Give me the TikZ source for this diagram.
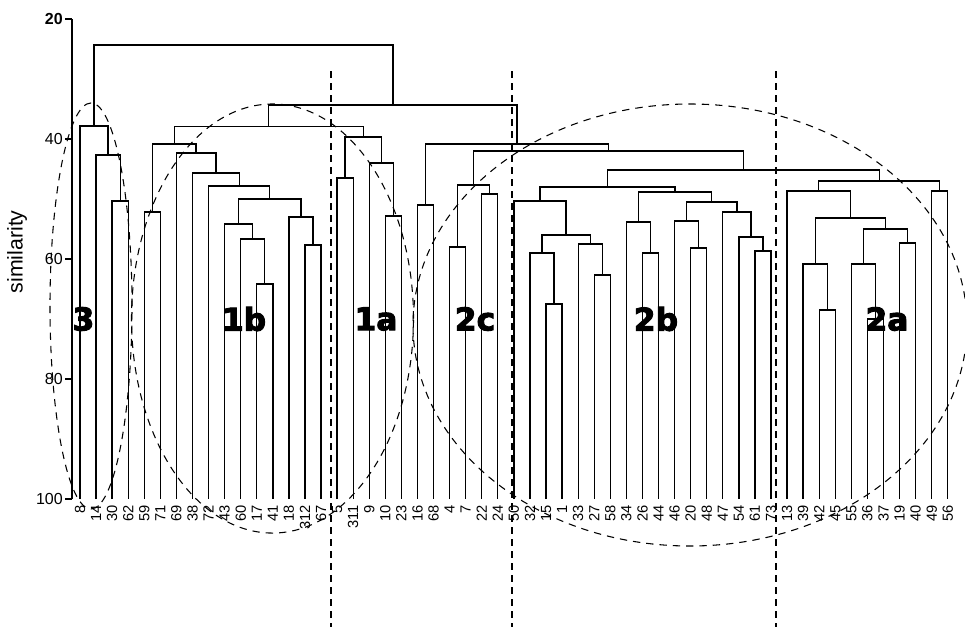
\documentclass[tikz,border=0pt]{standalone}
\usepackage{fontspec}
\setmainfont{Liberation Sans}
\newfontfamily\clusterfont{DejaVu Sans}[FakeBold=3]
\usetikzlibrary{calc, positioning}
\tikzset{
branch/.style={line width=1pt},
axis/.style={line width=0.9pt},
cut/.style={line width=0.8pt, dash pattern=on 5pt off 4pt},
region/.style={line width=0.8pt, dash pattern=on 5.5pt off 4.5pt},
leaf/.style={rotate=90, anchor=east, inner sep=0pt, font=\fontsize{11}{11}\selectfont},
ticklabel/.style={anchor=east, inner sep=0pt, font=\fontsize{12}{12}\selectfont},
cluster/.style={inner sep=0pt, font=\clusterfont\bfseries\fontsize{23.5}{23.5}\selectfont},
}
% one bracket of the dendrogram: name, left child, right child, similarity
\newcommand{\clmerge}[4]{%
  \coordinate (#1-x) at ($(#2)!0.5!(#3)$);
  \coordinate (#1) at (#1-x |- 0,#4);
  \draw[branch] (#2) |- (#1) -| (#3);
}
\begin{document}
\begin{tikzpicture}[x=0.75pt, y=-4.5pt]
\useasboundingbox (0,16.833) rectangle (965,121.333);

% axis
\draw[axis] (72,20) -- (72,100);
\foreach \s in {20,40,...,100}
  \draw[axis] (72,\s) -- (65,\s);
\node[ticklabel] (y20) at (63,20) {\bfseries 20};
\foreach \s in {40,60,80,100}
  \node[ticklabel] (y\s) at (63,\s) {\s};
\node[rotate=90, font=\fontsize{16}{16}\selectfont] (ylab) at (17,58.8) {similarity};

% leaves
\foreach \lab [count=\i from 0] in {8,14,30,62,59,71,69,38,72,43,60,17,41,18,312,67,5,311,9,10,23,16,68,4,7,22,24,50,32,15,1,33,27,58,34,26,44,46,20,48,47,54,61,73,13,39,42,45,55,36,37,19,40,49,56}{
  \coordinate (l\lab) at ({80+16.07*\i},100);
  \node[leaf] (t\lab) at ({80+16.07*\i},101) {\lab};
}

% cluster 3
\clmerge{c3a}{l30}{l62}{50.33}
\clmerge{c3b}{l14}{c3a}{42.67}
\clmerge{c3}{l8}{c3b}{37.83}

% cluster 1b
\clmerge{b1}{l59}{l71}{52.17}
\clmerge{b2}{l17}{l41}{64.17}
\clmerge{b3}{l60}{b2}{56.67}
\clmerge{b4}{l43}{b3}{54.17}
\clmerge{b5}{l312}{l67}{57.67}
\clmerge{b6}{l18}{b5}{53}
\clmerge{b7}{b4}{b6}{50}
\clmerge{b8}{l72}{b7}{47.83}
\clmerge{b9}{l38}{b8}{45.67}
\clmerge{b10}{l69}{b9}{42.33}
\clmerge{c1b}{b1}{b10}{40.83}

% cluster 1a
\clmerge{a1}{l5}{l311}{46.5}
\clmerge{a2}{l10}{l23}{52.83}
\clmerge{a3}{l9}{a2}{44}
\clmerge{c1a}{a1}{a3}{39.67}
\clmerge{c1}{c1b}{c1a}{37.92}

% cluster 2c
\clmerge{e1}{l16}{l68}{51}
\clmerge{e2}{l4}{l7}{58}
\clmerge{e3}{l22}{l24}{49.17}
\clmerge{c2c}{e2}{e3}{47.67}

% cluster 2b
\clmerge{f1}{l15}{l1}{67.5}
\clmerge{f2}{l32}{f1}{59}
\clmerge{f3}{l27}{l58}{62.67}
\clmerge{f4}{l33}{f3}{57.5}
\clmerge{f5}{f2}{f4}{56}
\clmerge{f6}{l50}{f5}{50.33}
\clmerge{f7}{l26}{l44}{59}
\clmerge{f8}{l34}{f7}{53.83}
\clmerge{f9}{l20}{l48}{58.17}
\clmerge{f10}{l46}{f9}{53.67}
\clmerge{f11}{l61}{l73}{58.67}
\clmerge{f12}{l54}{f11}{56.33}
\clmerge{f13}{l47}{f12}{52.17}
\clmerge{f14}{f10}{f13}{50.5}
\clmerge{f15}{f8}{f14}{48.83}
\clmerge{c2b}{f6}{f15}{48}

% cluster 2a
\clmerge{g1}{l42}{l45}{68.5}
\clmerge{g2}{l39}{g1}{60.83}
\clmerge{g3}{l36}{l37}{70}
\clmerge{g4}{l55}{g3}{60.83}
\clmerge{g5}{l19}{l40}{57.33}
\clmerge{g6}{g4}{g5}{55}
\clmerge{g7}{g2}{g6}{53.17}
\clmerge{g8}{l13}{g7}{48.67}
\clmerge{g9}{l49}{l56}{48.67}
\clmerge{c2a}{g8}{g9}{47}

% upper levels
\clmerge{h1}{c2b}{c2a}{45.17}
\clmerge{h2}{c2c}{h1}{42}
\clmerge{c2}{e1}{h2}{40.83}
\clmerge{c12}{c1}{c2}{34.33}
\clmerge{root}{c3}{c12}{24.33}

% cuts and groups
\foreach \x in {331,512,776}
  \draw[cut] (\x,28.67) -- (\x,121.333);
\draw[region] (91,67.83) ellipse [x radius=30.75pt, y radius=152.25pt];
\draw[region] (272.5,69.92) ellipse [x radius=105.75pt, y radius=160.9pt];
\draw[region] (690,71) ellipse [x radius=207.75pt, y radius=165.75pt];

\node[cluster] (n3) at (83.5,70) {3};
\node[cluster] (n1b) at (244,70) {1b};
\node[cluster] (n1a) at (376,70) {1a};
\node[cluster] (n2c) at (475,70) {2c};
\node[cluster] (n2b) at (656,70) {2b};
\node[cluster] (n2a) at (887,70) {2a};
\end{tikzpicture}
\end{document}
